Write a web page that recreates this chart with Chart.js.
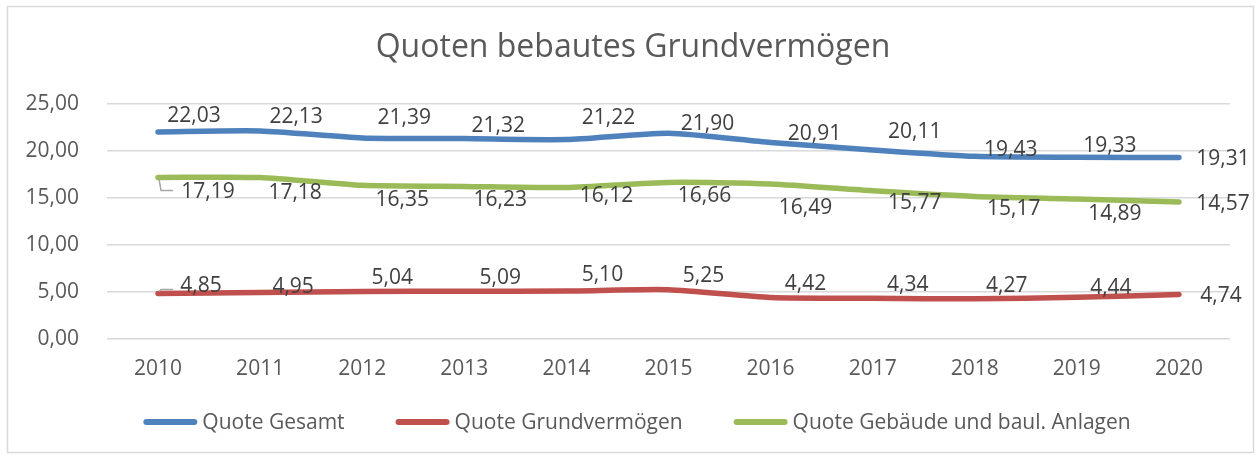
<!DOCTYPE html>
<html><head><meta charset="utf-8">
<script src="https://cdn.jsdelivr.net/npm/chart.js@4.4.1/dist/chart.umd.min.js"></script>
<style>html,body{margin:0;padding:0;background:#fff}#wrap{width:1260px;height:456px;position:relative}</style>
</head><body><div id="wrap"><canvas id="c" width="1260" height="456"></canvas></div>
<script>
// ---- data ----
const years = ['2010','2011','2012','2013','2014','2015','2016','2017','2018','2019','2020'];
const quoteGesamt = [22.03,22.13,21.39,21.32,21.22,21.90,20.91,20.11,19.43,19.33,19.31];
const quoteGrundvermoegen = [4.85,4.95,5.04,5.09,5.10,5.25,4.42,4.34,4.27,4.44,4.74];
const quoteGebaeude = [17.19,17.18,16.35,16.23,16.12,16.66,16.49,15.77,15.17,14.89,14.57];
const yTickValues = [0,5,10,15,20,25];
const seriesNames = ['Quote Gesamt','Quote Grundvermögen','Quote Gebäude und baul. Anlagen'];
const chartTitle = 'Quoten bebautes Grundvermögen';

// ---- label placement (pixel offsets from each point) ----
const offGesamt = [[36,-16],[36,-14],[42,-20],[34,-13],[42,-22],[39,-9],[44,-8],[42,-18],[36,-6],[33,-11],[44,2]];
const offGrund = [[43,-7],[33,-5],[30,-14],[36,-13],[36,-16],[35,-14],[35,-13],[35,-13],[32,-13],[34,-9],[42,2]];
const offGebaeude = [[50,15],[35,16],[40,15],[36,14],[40,9],[36,14],[35,24],[42,12],[39,13],[38,15],[44,2]];
const leaderPoints = {1:[0], 2:[0]};

const COL = {blue:'#4f81bd', red:'#c0504d', green:'#9bbb59', text:'#595959', label:'#404040', grid:'#d9d9d9'};
const FONT = '"Open Sans", "Noto Sans", sans-serif';
const fmt = v => v.toFixed(2).replace('.', ',');

const framePlugin = {
  id:'frame',
  beforeDraw(chart){
    const c = chart.ctx; c.save();
    c.fillStyle = '#fff'; c.fillRect(0,0,chart.width,chart.height);
    c.strokeStyle = '#d9d9d9'; c.lineWidth = 1.5;
    c.strokeRect(7.5,6.5,1246,446);
    c.restore();
  },
  afterDraw(chart){
    const c = chart.ctx; c.save();
    // title
    c.fillStyle = COL.text; c.font = '32px ' + FONT;
    c.textAlign = 'center'; c.textBaseline = 'middle';
    c.fillText(chartTitle, 633, 48);
    // legend
    c.font = '21px ' + FONT; c.textAlign = 'left';
    const lineW = 54, gap = 5, itemGap = 51;
    const widths = seriesNames.map(n => c.measureText(n).width);
    const total = widths.reduce((a,b)=>a+b,0) + 3*(lineW+gap) + 2*itemGap;
    let x = 637 - total/2; const y = 422;
    chart.data.datasets.forEach((ds,i)=>{
      c.strokeStyle = ds.borderColor; c.lineWidth = 6; c.lineCap = 'round';
      c.beginPath(); c.moveTo(x+3,y); c.lineTo(x+lineW-3,y); c.stroke();
      c.fillStyle = COL.text;
      c.fillText(ds.label, x+lineW+gap, y+1);
      x += lineW + gap + widths[i] + itemGap;
    });
    c.restore();
  }
};

const labelPlugin = {
  id:'pointLabels',
  afterDatasetsDraw(chart){
    const c = chart.ctx; c.save();
    c.font = '21px ' + FONT; c.fillStyle = COL.label;
    c.textAlign = 'center'; c.textBaseline = 'middle';
    chart.data.datasets.forEach((ds,di)=>{
      const meta = chart.getDatasetMeta(di);
      meta.data.forEach((pt,i)=>{
        const o = ds.labelOffsets[i];
        const lx = pt.x + o[0], ly = pt.y + o[1];
        c.fillText(fmt(ds.data[i]), lx, ly);
        if ((leaderPoints[di]||[]).includes(i)) {
          c.save(); c.strokeStyle = '#a6a6a6'; c.lineWidth = 1.5;
          const ty = ly + (o[1] > 0 ? -2 : 3);
          c.beginPath(); c.moveTo(pt.x+1, pt.y + (o[1]>0?2:-2));
          c.lineTo(pt.x+3, ty); c.lineTo(pt.x+15, ty); c.stroke(); c.restore();
        }
      });
    });
    c.restore();
  }
};

const mk = (label, data, color, offs) => ({
  label, data, borderColor: color, backgroundColor: color, borderWidth: 5.5,
  tension: 0.22, pointRadius: 0, pointHoverRadius: 0, borderCapStyle: 'round',
  borderJoinStyle: 'round', fill: false, labelOffsets: offs
});

new Chart(document.getElementById('c'), {
  type: 'line',
  data: {
    labels: years,
    datasets: [
      mk(seriesNames[0], quoteGesamt, COL.blue, offGesamt),
      mk(seriesNames[1], quoteGrundvermoegen, COL.red, offGrund),
      mk(seriesNames[2], quoteGebaeude, COL.green, offGebaeude)
    ]
  },
  options: {
    responsive: false, animation: false, devicePixelRatio: 1,
    layout: { padding: { left: 0, right: 30, top: 104, bottom: 77 } },
    plugins: { legend: { display: false }, title: { display: false }, tooltip: { enabled: false } },
    scales: {
      x: {
        offset: true,
        grid: { display: false, drawTicks: false },
        border: { display: false },
        ticks: { color: COL.text, font: { family: FONT, size: 21 }, padding: 17, maxRotation: 0 },
        afterFit(s){ s.height = 40; }
      },
      y: {
        min: 0, max: 25,
        afterBuildTicks(s){ s.ticks = yTickValues.map(v => ({value: v})); },
        grid: { color: COL.grid, lineWidth: 1.5, drawTicks: false },
        border: { display: false },
        ticks: { color: COL.text, font: { family: FONT, size: 21 }, padding: 28, callback: v => fmt(v) },
        afterFit(s){ s.width = 107; }
      }
    }
  },
  plugins: [framePlugin, labelPlugin]
});
</script></body></html>
